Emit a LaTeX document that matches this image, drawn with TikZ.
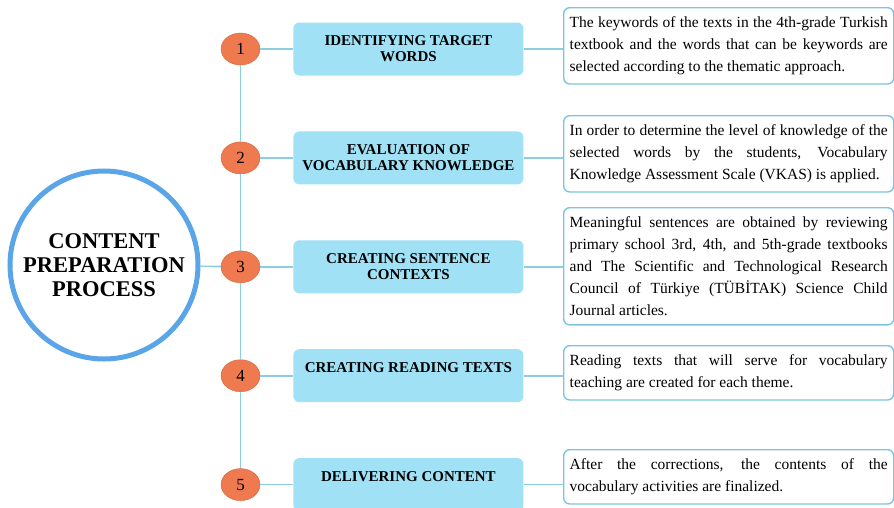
\documentclass[tikz,border=0pt]{standalone}
\usepackage{fontspec}
\setmainfont{Liberation Serif}
\usetikzlibrary{shapes.geometric}
\usetikzlibrary{positioning}
\definecolor{hubblue}{RGB}{90,165,232}
\definecolor{numorange}{RGB}{239,122,80}
\definecolor{numedge}{RGB}{214,98,58}
\definecolor{stagecyan}{RGB}{160,225,246}
\definecolor{linkblue}{RGB}{140,205,226}
\definecolor{noteblue}{RGB}{125,196,222}

\begin{document}
\begin{tikzpicture}[x=1pt,y=1pt,
  hub/.style={circle,draw=hubblue,line width=5pt,fill=white,minimum size=188pt,align=center,font=\fontsize{22.5}{24}\selectfont\bfseries},
  num/.style={ellipse,fill=numorange,draw=numedge,thin,minimum width=39pt,minimum height=32pt,inner sep=0pt,font=\fontsize{17}{18}\selectfont},
  stage/.style={rectangle,rounded corners=6pt,fill=stagecyan,minimum width=230pt,minimum height=53pt,align=center,font=\fontsize{15}{16}\selectfont\bfseries},
  note/.style={rectangle,rounded corners=6pt,draw=noteblue,line width=1.4pt,fill=white,text width=318pt,inner xsep=6pt,inner ysep=9pt,align=justify,anchor=north west,font=\fontsize{15.5}{22}\selectfont},
  link/.style={draw=linkblue,line width=1.6pt}]
\useasboundingbox (0,0) rectangle (894,-507);
\node[hub] (hub) at (104,-265) {CONTENT\\PREPARATION\\PROCESS};
% numbered steps
\node[num] (n1) at (240.5,-49) {1};
\node[num] (n2) [below=76.5pt of n1] {2};
\node[num] (n3) [below=76.5pt of n2] {3};
\node[num] (n4) [below=76.5pt of n3] {4};
\node[num] (n5) [below=76.5pt of n4] {5};
% stage titles
\node[stage] (s1) [right=33pt of n1] {IDENTIFYING TARGET\\WORDS};
\node[stage] (s2) [right=33pt of n2] {EVALUATION OF\\VOCABULARY KNOWLEDGE};
\node[stage] (s3) [right=33pt of n3] {CREATING SENTENCE\\CONTEXTS};
\node[stage] (s4) [right=33pt of n4] {CREATING READING TEXTS\\ \mbox{}};
\node[stage] (s5) [right=33pt of n5] {DELIVERING CONTENT\\ \mbox{}};
% explanations
\node[note] (d1) at (563,-7) {The keywords of the texts in the 4th-grade Turkish\linebreak textbook and the words that can be keywords are\linebreak selected according to the thematic approach.};
\node[note] (d2) at (563,-115) {In order to determine the level of knowledge of the\linebreak selected words by the students, Vocabulary\linebreak Knowledge Assessment Scale (VKAS) is applied.};
\node[note] (d3) at (563,-207) {Meaningful sentences are obtained by reviewing\linebreak primary school 3rd, 4th, and 5th-grade textbooks\linebreak and The Scientific and Technological Research\linebreak Council of Türkiye (TÜBİTAK) Science Child\linebreak Journal articles.};
\node[note] (d4) at (563,-345) {Reading texts that will serve for vocabulary\linebreak teaching are created for each theme.};
\node[note] (d5) at (563,-449) {After the corrections, the contents of the\linebreak vocabulary activities are finalized.};
% connectors
\draw[link] (hub) -- (n3);
\draw[link] (n1) -- (n2);
\draw[link] (n2) -- (n3);
\draw[link] (n3) -- (n4);
\draw[link] (n4) -- (n5);
\draw[link] (n1) -- (s1);
\draw[link] (n2) -- (s2);
\draw[link] (n3) -- (s3);
\draw[link] (n4) -- (s4);
\draw[link] (n5) -- (s5);
\draw[link] (s1.east) -- (s1.east -| d1.west);
\draw[link] (s2.east) -- (s2.east -| d2.west);
\draw[link] (s3.east) -- (s3.east -| d3.west);
\draw[link] (s4.east) -- (s4.east -| d4.west);
\draw[link] (s5.east) -- (s5.east -| d5.west);
\end{tikzpicture}
\end{document}
